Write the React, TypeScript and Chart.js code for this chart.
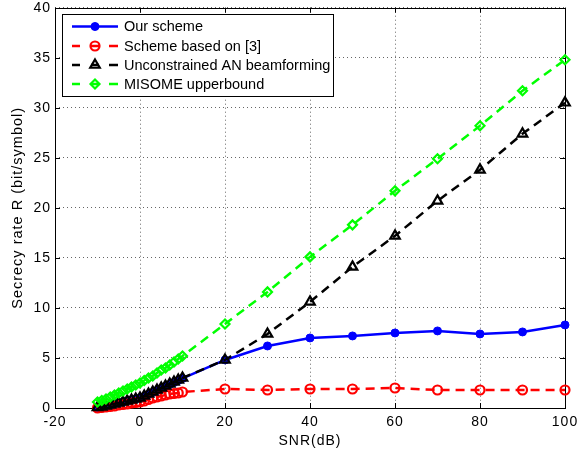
import React, { useEffect, useRef } from 'react';
import { Chart, registerables } from 'chart.js';
import { drawPoint } from 'chart.js/helpers';
Chart.register(...registerables);

const FONT = "'Liberation Sans', Arial, Helvetica, sans-serif";

const snr = [-10, -9, -8, -7, -6, -5, -4, -3, -2, -1, 0, 1, 2, 3, 4, 5, 6, 7, 8, 9, 10, 20, 30, 40, 50, 60, 70, 80, 90, 100];
const ourScheme = [0.05, 0.1, 0.2, 0.3, 0.4, 0.5, 0.6, 0.7, 0.8, 0.9, 1.0, 1.15, 1.35, 1.55, 1.75, 1.95, 2.15, 2.35, 2.55, 2.75, 2.95, 4.8, 6.2, 7.0, 7.2, 7.5, 7.7, 7.4, 7.6, 8.3];
const schemeRef3 = [0.0, 0.05, 0.1, 0.15, 0.2, 0.3, 0.35, 0.4, 0.5, 0.55, 0.6, 0.7, 0.85, 1.0, 1.1, 1.2, 1.3, 1.4, 1.45, 1.5, 1.6, 1.9, 1.8, 1.9, 1.9, 2.0, 1.8, 1.8, 1.8, 1.8];
const unconstrainedAN = [0.05, 0.1, 0.2, 0.3, 0.4, 0.5, 0.6, 0.7, 0.8, 0.9, 1.0, 1.2, 1.4, 1.6, 1.8, 2.0, 2.2, 2.4, 2.6, 2.8, 3.0, 4.8, 7.4, 10.6, 14.1, 17.2, 20.7, 23.8, 27.4, 30.5];
const misome = [0.6, 0.75, 0.9, 1.1, 1.3, 1.5, 1.7, 1.9, 2.1, 2.3, 2.5, 2.75, 3.0, 3.2, 3.5, 3.8, 4.0, 4.3, 4.6, 4.9, 5.2, 8.4, 11.6, 15.1, 18.3, 21.7, 24.9, 28.2, 31.7, 34.8];

const seriesNames = ['Our scheme', 'Scheme based on [3]', 'Unconstrained AN beamforming', 'MISOME upperbound'];
const seriesColors = ['#0000ff', '#ff0000', '#000000', '#00ff00'];
const seriesStyles = ['circle', 'circle', 'triangle', 'rectRot'];
const seriesValues = [ourScheme, schemeRef3, unconstrainedAN, misome];

const xTicks = { min: -20, max: 100, step: 20 };
const yTicks = { min: 0, max: 40, step: 5 };

const spacingPlugin = {
  id: 'letterSpacing',
  beforeDraw(chart: any) {
    try { (chart.ctx as any).letterSpacing = '1px'; } catch (e) { /* ignore */ }
  },
};

const axesBoxPlugin = {
  id: 'axesBox',
  beforeDatasetsDraw(chart: any) {
    const { ctx, chartArea: a, scales } = chart;
    ctx.save();
    ctx.strokeStyle = '#000';
    ctx.lineWidth = 1;
    ctx.setLineDash([]);
    ctx.strokeRect(Math.round(a.left) + 0.5, Math.round(a.top) + 0.5, Math.round(a.right - a.left), Math.round(a.bottom - a.top));
    const tl = 5;
    ctx.beginPath();
    scales.x.ticks.forEach((t: any) => {
      const px = Math.round(scales.x.getPixelForValue(t.value)) + 0.5;
      ctx.moveTo(px, a.bottom); ctx.lineTo(px, a.bottom - tl);
      ctx.moveTo(px, a.top); ctx.lineTo(px, a.top + tl);
    });
    scales.y.ticks.forEach((t: any) => {
      const py = Math.round(scales.y.getPixelForValue(t.value)) + 0.5;
      ctx.moveTo(a.left, py); ctx.lineTo(a.left + tl, py);
      ctx.moveTo(a.right, py); ctx.lineTo(a.right - tl, py);
    });
    ctx.stroke();
    ctx.restore();
  },
};

const legendPlugin = {
  id: 'customLegend',
  afterDraw(chart: any) {
    const { ctx } = chart;
    const x0 = 62, y0 = 14, w = 271, h = 82;
    ctx.save();
    try { (ctx as any).letterSpacing = '0px'; } catch (e) { /* ignore */ }
    ctx.fillStyle = '#fff';
    ctx.fillRect(x0, y0, w, h);
    ctx.strokeStyle = '#000';
    ctx.lineWidth = 1;
    ctx.setLineDash([]);
    ctx.strokeRect(x0 + 0.5, y0 + 0.5, w, h);
    const rows = [26.5, 46, 65, 84];
    chart.data.datasets.forEach((ds: any, i: number) => {
      const y = rows[i];
      ctx.strokeStyle = ds.borderColor;
      ctx.lineWidth = 2.5;
      ctx.setLineDash([]);
      ctx.beginPath();
      if (i === 0) {
        ctx.moveTo(72, y); ctx.lineTo(118, y);
      } else {
        ctx.moveTo(72, y); ctx.lineTo(80, y);
        ctx.moveTo(91, y); ctx.lineTo(99, y);
        ctx.moveTo(109, y); ctx.lineTo(118, y);
      }
      ctx.stroke();
      ctx.fillStyle = ds.pointBackgroundColor;
      ctx.strokeStyle = ds.borderColor;
      ctx.lineWidth = ds.pointBorderWidth;
      drawPoint(ctx, { pointStyle: ds.pointStyle, radius: ds.pointRadius, borderWidth: ds.pointBorderWidth, rotation: 0 }, 95, y);
      ctx.fillStyle = '#000';
      ctx.font = `14.5px ${FONT}`;
      ctx.textBaseline = 'middle';
      ctx.textAlign = 'left';
      ctx.fillText(ds.label, 124, y + 0.5);
    });
    ctx.restore();
  },
};

export default function App() {
  const ref = useRef<HTMLCanvasElement>(null);
  useEffect(() => {
    const datasets = seriesNames.map((name, i) => ({
      label: name,
      data: snr.map((x, k) => ({ x, y: seriesValues[i][k] })),
      borderColor: seriesColors[i],
      backgroundColor: seriesColors[i],
      pointBackgroundColor: i === 0 ? seriesColors[i] : 'rgba(255,255,255,0)',
      pointBorderColor: seriesColors[i],
      pointStyle: seriesStyles[i],
      pointRadius: i === 0 ? 4 : i === 2 ? 5.5 : 4.5,
      pointBorderWidth: i === 0 ? 1 : 2.2,
      borderWidth: 2.5,
      borderDash: i === 0 ? [] : [9, 6],
      tension: 0,
      clip: false as any,
      order: 4 - i,
    }));
    const gridOpts = { drawTicks: false, color: 'rgba(0,0,0,0.6)', lineWidth: 1 };
    const chart = new Chart(ref.current!, {
      type: 'line',
      data: { datasets },
      options: {
        responsive: false,
        animation: false,
        layout: { padding: { left: 0, right: 13, top: 7, bottom: 0 } },
        plugins: { legend: { display: false }, tooltip: { enabled: false } },
        scales: {
          x: {
            type: 'linear',
            min: xTicks.min,
            max: xTicks.max,
            ticks: { stepSize: xTicks.step, maxRotation: 0, autoSkip: false, color: '#000', padding: 6, font: { family: FONT, size: 14 } },
            grid: gridOpts,
            border: { display: false, dash: [1, 3] },
            title: { display: true, text: 'SNR(dB)', color: '#000', font: { family: FONT, size: 14 }, padding: { top: 0, bottom: 1 } },
            afterFit: (s: any) => { s.height = 43; s.paddingLeft = 0; s.paddingRight = 0; },
          },
          y: {
            type: 'linear',
            min: yTicks.min,
            max: yTicks.max,
            ticks: { stepSize: yTicks.step, color: '#000', padding: 4, font: { family: FONT, size: 14, lineHeight: 1 } },
            grid: gridOpts,
            border: { display: false, dash: [1, 3] },
            title: { display: true, text: 'Secrecy rate R (bit/symbol)', color: '#000', font: { family: FONT, size: 14.5 }, padding: { top: 9, bottom: 0 } },
            afterFit: (s: any) => { s.width = 55; s.paddingTop = 0; s.paddingBottom = 0; },
          },
        },
      },
      plugins: [spacingPlugin, axesBoxPlugin, legendPlugin],
    });
    return () => chart.destroy();
  }, []);
  return (
    <div style={{ position: 'fixed', left: 0, top: 0, width: 578, height: 451, background: '#fff' }}>
      <canvas ref={ref} width={578} height={451} style={{ display: 'block' }} />
    </div>
  );
}
